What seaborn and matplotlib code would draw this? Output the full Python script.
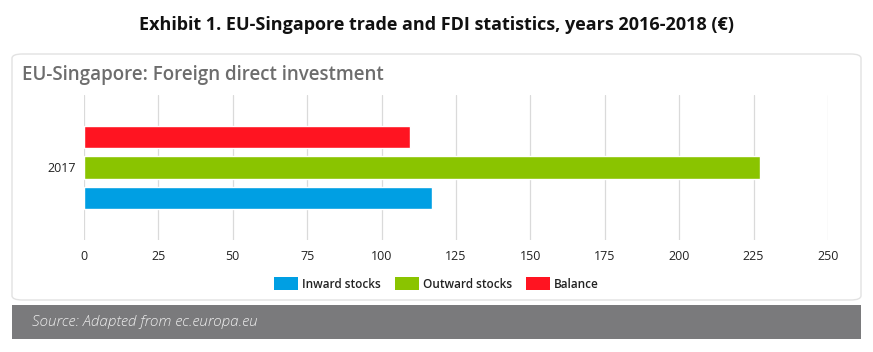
import pandas as pd
import numpy as np
import matplotlib.pyplot as plt
import seaborn as sns
from matplotlib.patches import FancyBboxPatch, Rectangle, Patch

years = ["2017"]
series = ["Inward stocks", "Outward stocks", "Balance"]
inward = [117]
outward = [227]
balance = [109.5]
ticks = [0, 25, 50, 75, 100, 125, 150, 175, 200, 225, 250]
colors = ["#009FE3", "#8AC400", "#FF1421"]

df = pd.DataFrame({
    "year": years * 3,
    "series": [series[0]] * len(years) + [series[1]] * len(years) + [series[2]] * len(years),
    "value": inward + outward + balance,
})

sns.set_style("white")
plt.rcParams["font.family"] = ["Open Sans", "DejaVu Sans"]

fig = plt.figure(figsize=(8.73, 3.52), dpi=100)
W, H = 873, 352

# card background
card = FancyBboxPatch((12 / W, 1 - 300 / H), (861 - 12) / W, (300 - 54) / H,
                      boxstyle="round,pad=0,rounding_size=0.012",
                      transform=fig.transFigure, facecolor="white",
                      edgecolor="#e2e2e2", linewidth=1.0, zorder=-5)
fig.patches.append(card)

# grey source footer
foot = Rectangle((12 / W, 1 - 339 / H), (861 - 12) / W, (339 - 305) / H,
                 transform=fig.transFigure, facecolor="#7a7a7c",
                 edgecolor="none", zorder=-5)
fig.patches.append(foot)

ax = fig.add_axes([84 / W, 1 - 240 / H, (828 - 84) / W, (240 - 95) / H])
ax.set_facecolor("none")
ax.set_zorder(2)

sns.barplot(data=df, x="value", y="year", hue="series", hue_order=series,
            palette=colors, orient="h", width=0.63, gap=0.25,
            saturation=1, legend=False, ax=ax)
ax.invert_yaxis()

ax.set_xlim(0, 250)
ax.set_xticks(ticks)
ax.set_xticklabels([str(t) for t in ticks])
ax.grid(axis="x", color="#dadada", linewidth=0.9)
ax.set_axisbelow(True)
for s in ax.spines.values():
    s.set_visible(False)
ax.tick_params(axis="both", length=0, labelsize=9, colors="#222222")
ax.tick_params(axis="x", pad=7)
ax.tick_params(axis="y", pad=6)
ax.set_xlabel("")
ax.set_ylabel("")

handles = [Patch(facecolor=c, edgecolor="none", label=l) for c, l in zip(colors, series)]
leg = fig.legend(handles=handles, loc="center", bbox_to_anchor=(0.5, 1 - 284 / H),
                 ncol=3, frameon=False, fontsize=8.5, handlelength=2.0,
                 handleheight=1.3, columnspacing=1.2, handletextpad=0.35)
for t in leg.get_texts():
    t.set_fontweight("semibold")
    t.set_color("#222222")

fig.text(0.5, 1 - 25 / H, "Exhibit 1. EU-Singapore trade and FDI statistics, years 2016-2018 (€)",
         ha="center", va="center", fontsize=13, fontweight="bold", color="#111111")
fig.text(22 / W, 1 - 75 / H, "EU-Singapore: Foreign direct investment",
         ha="left", va="center", fontsize=13.5, fontweight="semibold", color="#6d6d6d")
fig.text(32 / W, 1 - 322 / H, "Source: Adapted from ec.europa.eu",
         ha="left", va="center", fontsize=11, style="italic", fontweight="light",
         color="#ececec")

fig.savefig("out.png", dpi=100)
